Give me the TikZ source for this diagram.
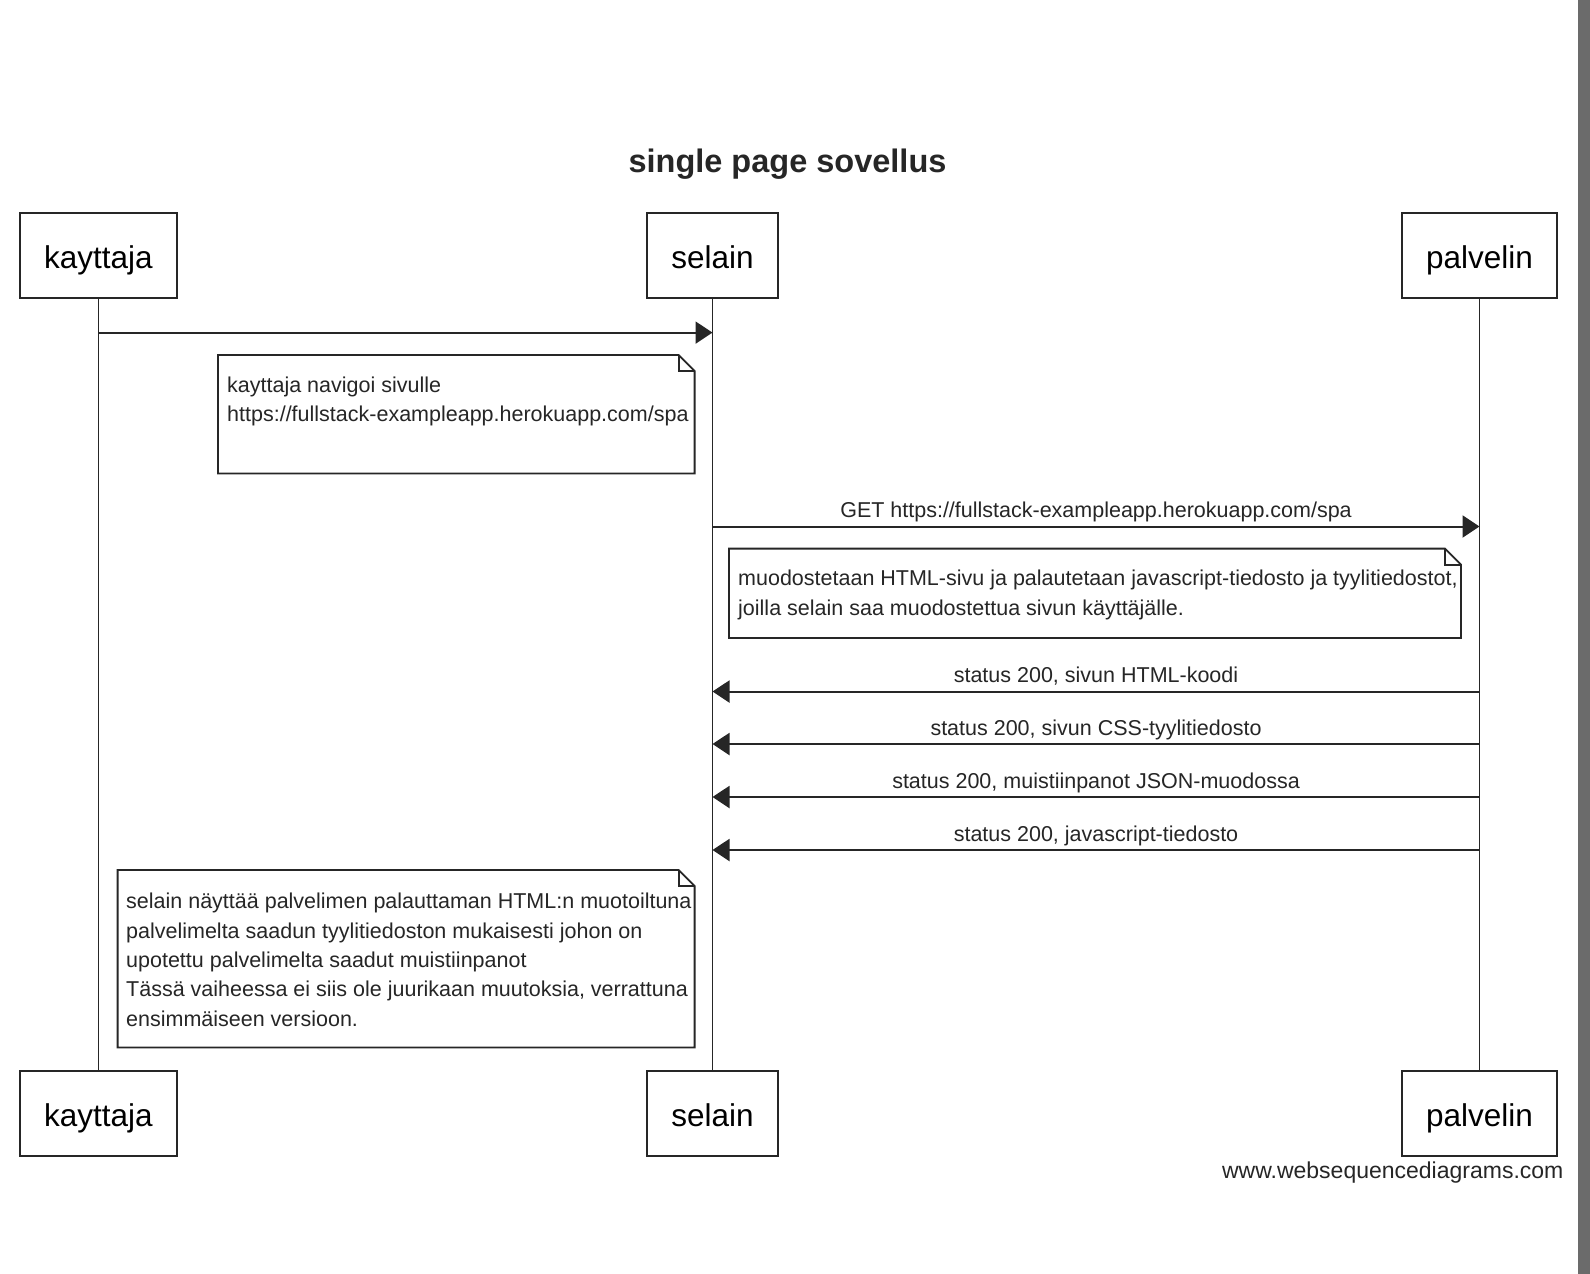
\documentclass[tikz,border=0pt]{standalone}
\usepackage{fontspec}
\setmainfont{Liberation Sans}
\usetikzlibrary{arrows.meta,calc}

% folded-corner note outline between a north-west and a south-east coordinate
\newcommand\foldnote[2]{%
  \draw[notebox] (#1) -- ($(#1 -| #2)+(-16,0)$) -- ($(#1 -| #2)+(0,16)$)
    -- (#2) -- (#2 -| #1) -- cycle;
  \draw[notebox, fill=none] ($(#1 -| #2)+(-16,0)$) |- ($(#1 -| #2)+(0,16)$);
}

\begin{document}
\begin{tikzpicture}[x=1pt, y=-1pt,
  actor/.style={draw=black!85, line width=2pt, fill=white, inner xsep=24pt,
    inner ysep=0pt, minimum height=85pt, text height=30pt, text depth=5pt,
    font=\fontsize{31.5}{36}\selectfont},
  life/.style={line width=1.5pt, draw=black!85},
  msg/.style={line width=2pt, draw=black!85, -{Triangle[length=17pt,width=22pt]}},
  msglabel/.style={anchor=base, yshift=9pt, inner sep=0pt,
    font=\fontsize{21.5}{29.5}\selectfont, text=black!85},
  notetext/.style={anchor=north west, inner sep=0pt, align=left,
    font=\fontsize{21.5}{29.4}\selectfont, text=black!85},
  notebox/.style={draw=black!85, line width=1.8pt, fill=white},
]
\useasboundingbox (0,0) rectangle (1590,1274);
\fill[white] (0,0) rectangle (1590,1274);
\fill[black!58] (1578,0) rectangle (1590,1274);

% title
\node[anchor=base, inner sep=0pt, font=\bfseries\fontsize{32.5}{38}\selectfont, text=black!85]
  (title) at (787.5,172) {single page sovellus};

% participants, top and bottom
\node[actor] (kt) at (98.4,255.5)  {kayttaja};
\node[actor] (st) at (712.5,255.5) {selain};
\node[actor] (pt) at (1479.5,255.5) {palvelin};
\node[actor] (kb) at (98.4,1113.5)  {kayttaja};
\node[actor] (sb) at (712.5,1113.5) {selain};
\node[actor] (pb) at (1479.5,1113.5) {palvelin};

% lifelines
\draw[life] (kt.south) -- (kb.north);
\draw[life] (st.south) -- (sb.north);
\draw[life] (pt.south) -- (pb.north);

% message rows
\coordinate (r1) at (0,332.6);
\coordinate (r2) at (0,526.5);
\coordinate (r3) at (0,691.5);
\coordinate (r4) at (0,744);
\coordinate (r5) at (0,797);
\coordinate (r6) at (0,850);

\draw[msg] (kt |- r1) -- (st |- r1);

% note 1
\coordinate (n1a) at (218,355);
\coordinate (n1b) at (694.6,473.5);
\foldnote{n1a}{n1b}
\node[notetext] (n1) at (227,376.5)
  {kayttaja navigoi sivulle\\https://fullstack-exampleapp.herokuapp.com/spa};

\draw[msg] (st |- r2) -- node[msglabel] (m2) {GET https://fullstack-exampleapp.herokuapp.com/spa} (pt |- r2);

% note 2
\coordinate (n2a) at (729,548.6);
\coordinate (n2b) at (1461,638);
\foldnote{n2a}{n2b}
\node[notetext] (n2) at (738,570)
  {muodostetaan HTML-sivu ja palautetaan javascript-tiedosto ja tyylitiedostot,\\
   joilla selain saa muodostettua sivun käyttäjälle.};

\draw[msg] (pt |- r3) -- node[msglabel] (m3) {status 200, sivun HTML-koodi} (st |- r3);
\draw[msg] (pt |- r4) -- node[msglabel] (m4) {status 200, sivun CSS-tyylitiedosto} (st |- r4);
\draw[msg] (pt |- r5) -- node[msglabel] (m5) {status 200, muistiinpanot JSON-muodossa} (st |- r5);
\draw[msg] (pt |- r6) -- node[msglabel] (m6) {status 200, javascript-tiedosto} (st |- r6);

% note 3
\coordinate (n3a) at (117.6,870);
\coordinate (n3b) at (694.6,1047.5);
\foldnote{n3a}{n3b}
\node[notetext] (n3) at (126,893)
  {selain näyttää palvelimen palauttaman HTML:n muotoiltuna\\
   palvelimelta saadun tyylitiedoston mukaisesti johon on\\
   upotettu palvelimelta saadut muistiinpanot\\
   Tässä vaiheessa ei siis ole juurikaan muutoksia, verrattuna\\
   ensimmäiseen versioon.};

% footer
\node[anchor=base east, inner sep=0pt, font=\fontsize{23}{27}\selectfont, text=black!85]
  (foot) at (1563.6,1178) {www.websequencediagrams.com};
\end{tikzpicture}
\end{document}
